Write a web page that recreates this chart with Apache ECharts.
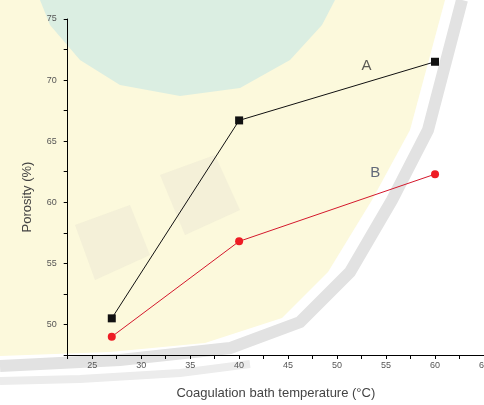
<!DOCTYPE html>
<html>
<head>
<meta charset="utf-8">
<script src="https://cdn.jsdelivr.net/npm/echarts@6/dist/echarts.min.js"></script>
<style>
html,body{margin:0;padding:0;background:#fff;}
#c{width:484px;height:405px;}
</style>
</head>
<body>
<div id="c"></div>
<script>
// Data
const temperatures = [27, 40, 60];
const porosityA = [50.5, 66.7, 71.5];
const porosityB = [49.0, 56.8, 62.3];
const xTicks = [25, 30, 35, 40, 45, 50, 55, 60, 65];
const yTicks = [50, 55, 60, 65, 70, 75];
const curveLabels = ['A', 'B'];
const curveLabelAnchors = [[53.0, 71.2], [53.9, 62.4]];

const chart = echarts.init(document.getElementById('c'), null, {renderer: 'canvas'});

const fmt = (ticks) => (v) => ticks.some(t => Math.abs(t - v) < 1e-6) ? String(v) : '';

const option = {
  backgroundColor: '#ffffff',
  animation: false,
  graphic: [
    {type: 'polygon', z: -10, silent: true,
     shape: {points: [[0,0],[445,0],[410,130],[372,200],[328,272],[282,318],[205,343],[110,352],[0,356]]},
     style: {fill: '#fcf9dc'}},
    {type: 'polygon', z: -9, silent: true,
     shape: {points: [[40,0],[335,0],[322,25],[290,60],[240,88],[180,96],[120,85],[80,60],[50,25]]},
     style: {fill: '#dbeee2'}},
    {type: 'polyline', z: -8, silent: true,
     shape: {points: [[462,0],[428,130],[392,200],[350,272],[300,322],[230,348],[120,360],[0,366]]},
     style: {stroke: '#e2e2e2', lineWidth: 12, fill: null}},
    {type: 'polyline', z: -8, silent: true,
     shape: {points: [[0,381],[80,379],[180,373],[250,364]]},
     style: {stroke: '#ececec', lineWidth: 8, fill: null}},
    {type: 'polygon', z: -8, silent: true,
     shape: {points: [[75,225],[130,205],[150,255],[95,280]]},
     style: {fill: '#ebe8d4', opacity: 0.5}},
    {type: 'polygon', z: -8, silent: true,
     shape: {points: [[160,175],[215,155],[240,210],[185,235]]},
     style: {fill: '#ebe8d4', opacity: 0.5}}
  ],
  grid: {left: 67.7, top: 19, right: 0, bottom: 50, containLabel: false, outerBoundsMode: 'none'},
  xAxis: {
    type: 'value', min: 22.5, max: 65, interval: 2.5,
    name: 'Coagulation bath temperature (°C)',
    nameLocation: 'middle', nameGap: 32,
    nameTextStyle: {fontFamily: 'Liberation Sans', fontSize: 13, color: '#444'},
    axisLine: {show: true, lineStyle: {color: '#000', width: 1}},
    axisTick: {show: true, inside: false, length: 4, lineStyle: {color: '#000'}},
    axisLabel: {formatter: fmt(xTicks), fontFamily: 'Liberation Sans', fontSize: 9, color: '#555', margin: 6, showMaxLabel: true, showMinLabel: true, hideOverlap: false},
    splitLine: {show: false}
  },
  yAxis: {
    type: 'value', min: 47.5, max: 75, interval: 2.5,
    name: 'Porosity (%)',
    nameLocation: 'middle', nameGap: 34,
    nameTextStyle: {fontFamily: 'Liberation Sans', fontSize: 13, color: '#444', padding: [0, 0, 0, -20]},
    axisLine: {show: true, lineStyle: {color: '#000', width: 1}},
    axisTick: {show: true, inside: false, length: 4, lineStyle: {color: '#000'}},
    axisLabel: {formatter: fmt(yTicks), fontFamily: 'Liberation Sans', fontSize: 9, color: '#555', margin: 11},
    splitLine: {show: false}
  },
  series: [
    {
      name: 'A', type: 'line',
      data: temperatures.map((t, i) => [t, porosityA[i]]),
      symbol: 'rect', symbolSize: 8,
      lineStyle: {color: '#111', width: 1},
      itemStyle: {color: '#111'}
    },
    {
      name: 'B', type: 'line',
      data: temperatures.map((t, i) => [t, porosityB[i]]),
      symbol: 'circle', symbolSize: 8,
      lineStyle: {color: '#d4182c', width: 1},
      itemStyle: {color: '#ee1c24'}
    },
    {
      name: 'labels', type: 'scatter', symbolSize: 0,
      data: curveLabels.map((l, i) => ({
        value: [curveLabelAnchors[i][0], curveLabelAnchors[i][1], l],
        label: {color: i === 0 ? '#333' : '#3b4560'}
      })),
      label: {show: true, position: 'inside', formatter: (p) => p.value[2],
              fontFamily: 'Liberation Sans', fontSize: 15},
      silent: true
    }
  ]
};
chart.setOption(option);
</script>
</body>
</html>
